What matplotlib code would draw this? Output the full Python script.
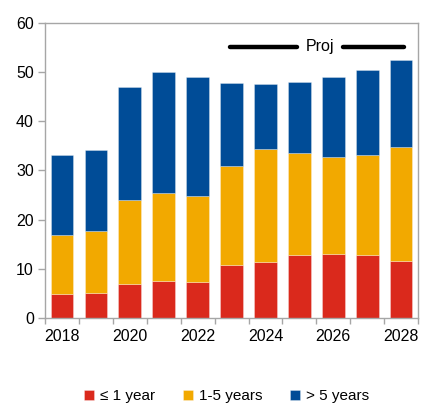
import matplotlib.pyplot as plt
import numpy as np

# data ------------------------------------------------
years = [2018, 2019, 2020, 2021, 2022, 2023, 2024, 2025, 2026, 2027, 2028]
short = [4.9, 5.1, 7.0, 7.45, 7.25, 10.7, 11.35, 12.9, 13.1, 12.9, 11.55]      # <= 1 year
medium = [11.9, 12.6, 17.0, 17.95, 17.65, 20.3, 22.95, 20.6, 19.6, 20.2, 23.2]  # 1-5 years
long_ = [16.3, 16.5, 22.9, 24.65, 24.1, 16.75, 13.25, 14.5, 16.3, 17.4, 17.65]  # > 5 years
labels = ["≤ 1 year", "1-5 years", "> 5 years"]
colors = ["#DA291C", "#F2A900", "#004C97"]
proj_level = 55.2
proj_span = (4.95, 10.1)

# plot ------------------------------------------------
plt.rcParams['font.family'] = ['Liberation Sans', 'DejaVu Sans']
fig = plt.figure(figsize=(4.21, 4.03), dpi=100)
ax = fig.add_axes([0.107, 0.211, 0.886, 0.732])

x = np.arange(len(years))
bottom = np.zeros(len(years))
for vals, lab, col in zip([short, medium, long_], labels, colors):
    ax.bar(x, vals, width=0.67, bottom=bottom, color=col, label=lab,
           edgecolor=(1, 1, 1, 0.35), linewidth=0.6)
    bottom += np.array(vals)

# projection marker
mid = 7.67
ax.plot([proj_span[0], mid - 0.75], [proj_level, proj_level], color='black',
        lw=3.2, solid_capstyle='round')
ax.plot([mid + 0.62, proj_span[1]], [proj_level, proj_level], color='black',
        lw=3.2, solid_capstyle='round')
ax.text(mid - 0.05, proj_level, "Proj", ha='center', va='center', fontsize=11.5)

ax.set_xlim(-0.5, len(years) - 0.5)
ax.set_ylim(0, 60)
ax.set_yticks(range(0, 61, 10))
ax.set_xticks(x[::2])
ax.set_xticklabels([str(y) for y in years[::2]])
ax.set_xticks(np.arange(-0.5, len(years), 1), minor=True)
ax.tick_params(axis='x', which='major', length=0, labelsize=11.5, pad=8)
ax.tick_params(axis='x', which='minor', length=4, color='#A6A6A6', width=1)
ax.tick_params(axis='y', length=5, color='#A6A6A6', width=1, labelsize=11.5, pad=3)
for s in ax.spines.values():
    s.set_color('#A6A6A6')
    s.set_linewidth(1)

fig.legend(loc='lower center', bbox_to_anchor=(0.538, -0.035), ncol=3, frameon=False,
           fontsize=11, handlelength=0.65, handleheight=0.65, handletextpad=0.4,
           columnspacing=1.8)

plt.savefig("out.png")
